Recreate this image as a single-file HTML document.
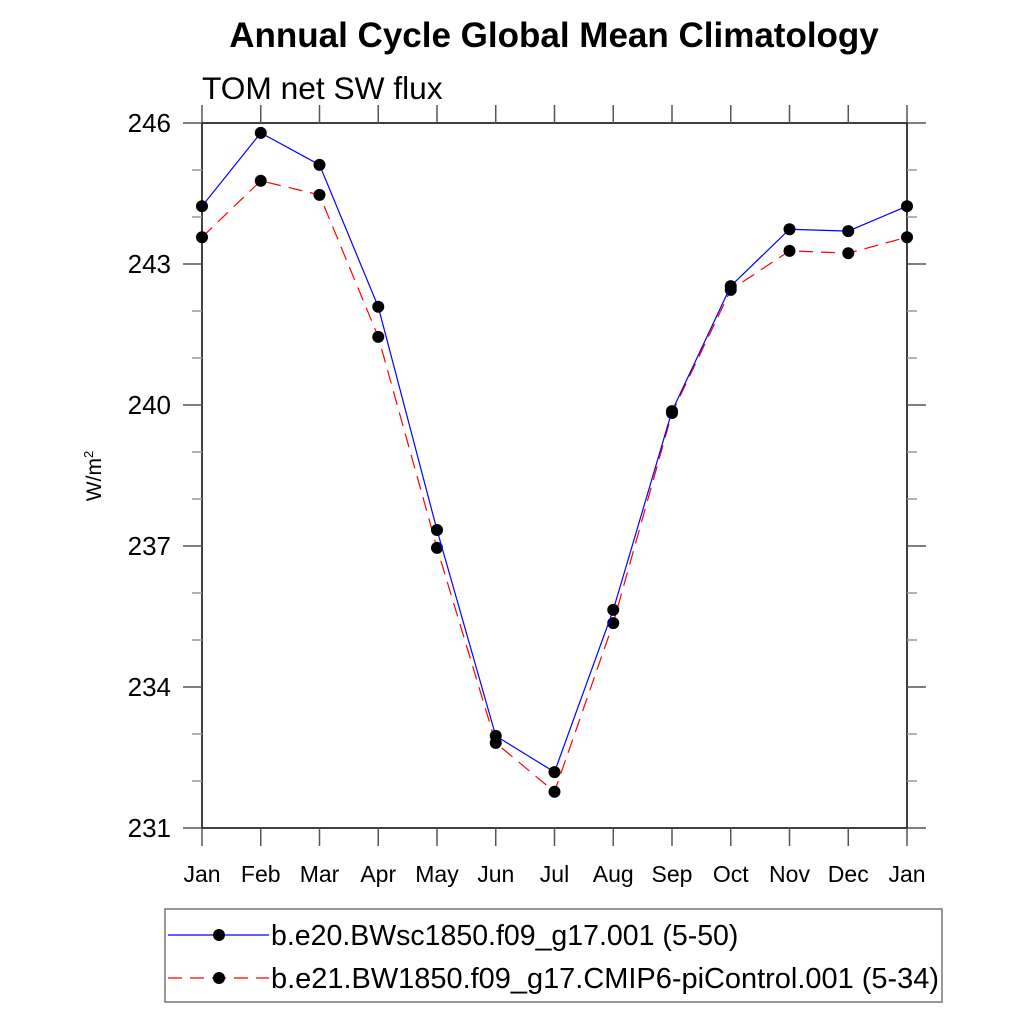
<!DOCTYPE html>
<html><head><meta charset="utf-8"><style>
body{margin:0;background:#fff;}
svg{display:block;font-family:"Liberation Sans",sans-serif;}
</style></head><body>
<svg id="chart" width="1024" height="1024" viewBox="0 0 1024 1024">
<text x="554" y="47" text-anchor="middle" font-size="35" font-weight="bold">Annual Cycle Global Mean Climatology</text>
<text x="202" y="99" font-size="31.7">TOM net SW flux</text>
<text transform="translate(101,476) rotate(-90)" text-anchor="middle" font-size="21">W/m<tspan dy="-8" font-size="13">2</tspan></text>
<g id="axes"></g>
<g id="series"></g>
<g>
<rect x="165" y="909" width="777" height="93" fill="none" stroke="#777" stroke-width="1.5"/>
<g>
<line x1="168" y1="935" x2="269" y2="935" stroke="#00f" stroke-width="1.2"/>
<circle cx="219" cy="935" r="6" fill="#000"/>
<text x="271" y="945" font-size="28.5">b.e20.BWsc1850.f09_g17.001 (5-50)</text></g>
<g>
<line x1="168" y1="978" x2="269" y2="978" stroke="#f00" stroke-width="1.2" stroke-dasharray="14,8"/>
<circle cx="219" cy="978" r="6" fill="#000"/>
<text x="271" y="988" font-size="28.5" textLength="668" lengthAdjust="spacingAndGlyphs">b.e21.BW1850.f09_g17.CMIP6-piControl.001 (5-34)</text></g>
</g>
</svg>
<script>
const months=["Jan","Feb","Mar","Apr","May","Jun","Jul","Aug","Sep","Oct","Nov","Dec","Jan"];
const yTicks=[231,234,237,240,243,246];
const blueVals=[244.23,245.79,245.11,242.09,237.34,232.96,232.19,235.64,239.87,242.53,243.74,243.70,244.23];
const redVals=[243.57,244.77,244.47,241.45,236.96,232.81,231.77,235.36,239.83,242.45,243.28,243.23,243.57];
const X0=202,X1=907,Y0=828,Y1=123,ymin=231,ymax=246;
const NS="http://www.w3.org/2000/svg";
function xs(i){return X0+(X1-X0)*i/(months.length-1);}
function ys(v){return Y0-(Y0-Y1)*(v-ymin)/(ymax-ymin);}
function mk(tag,attrs,parent){const e=document.createElementNS(NS,tag);for(const k in attrs)e.setAttribute(k,attrs[k]);parent.appendChild(e);return e;}
const ax=document.getElementById('axes');
const frame=mk('rect',{x:X0,y:Y1,width:X1-X0,height:Y0-Y1,fill:'none',stroke:'#000','stroke-width':1.5},ax);


for(let v=ymin;v<=ymax;v++){
  const y=ys(v),major=yTicks.includes(v),len=major?19:10,col=major?'#555':'#999';
  mk('line',{x1:X0-len,y1:y,x2:X0,y2:y,stroke:col,'stroke-width':1.5},ax);
  mk('line',{x1:X1,y1:y,x2:X1+len,y2:y,stroke:col,'stroke-width':1.5},ax);
}
yTicks.forEach(v=>{
  const t=mk('text',{x:X0-31,y:ys(v)+9,'text-anchor':'end','font-size':26},ax);
  t.textContent=v;
  
  
});
months.forEach((m,i)=>{
  const x=xs(i);
  mk('line',{x1:x,y1:Y0,x2:x,y2:Y0+18,stroke:'#555','stroke-width':1.5},ax);
  mk('line',{x1:x,y1:Y1-18,x2:x,y2:Y1,stroke:'#555','stroke-width':1.5},ax);
  const t=mk('text',{x:x,y:882,'text-anchor':'middle','font-size':23},ax);
  t.textContent=m;
  
  
});
const sg=document.getElementById('series');
function draw(vals,color,dash,name){
  const g=mk('g',{},sg);
  
  
  const pl=mk('polyline',{points:vals.map((v,i)=>xs(i)+','+ys(v)).join(' '),fill:'none',stroke:color,'stroke-width':1.2,'stroke-dasharray':dash},g);
  
  
  vals.forEach((v,i)=>{
    const c=mk('circle',{cx:xs(i),cy:ys(v),r:6,fill:'#000'},g);
    
    
  });
}
draw(redVals,'#f00','14,8','series-red');
draw(blueVals,'#00f','none','series-blue');
</script>
</body></html>
